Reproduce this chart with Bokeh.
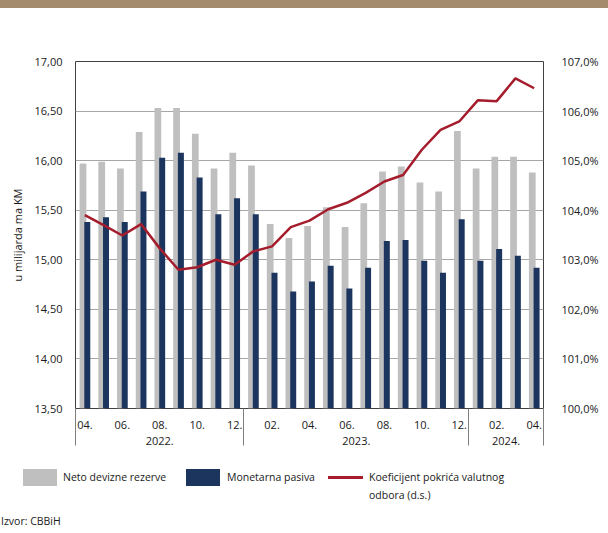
import numpy as np
from bokeh.plotting import figure
from bokeh.models import (Range1d, LinearAxis, FixedTicker, ColumnDataSource, Div)
from bokeh.layouts import column
from bokeh.embed import file_html
from bokeh.resources import INLINE

# ---------------- data ----------------
month_labels = ["04.", "05.", "06.", "07.", "08.", "09.", "10.", "11.", "12.",
                "01.", "02.", "03.", "04.", "05.", "06.", "07.", "08.", "09.", "10.", "11.", "12.",
                "01.", "02.", "03.", "04."]
year_of_month = ["2022."] * 9 + ["2023."] * 12 + ["2024."] * 4
year_labels = ["2022.", "2023.", "2024."]

reserves = [15.97, 15.99, 15.92, 16.29, 16.53, 16.53, 16.27, 15.92, 16.08,
            15.95, 15.36, 15.22, 15.34, 15.53, 15.33, 15.57, 15.89, 15.94, 15.78, 15.69, 16.30,
            15.92, 16.04, 16.04, 15.88]
monetary = [15.38, 15.43, 15.38, 15.69, 16.03, 16.08, 15.83, 15.46, 15.62,
            15.46, 14.87, 14.68, 14.78, 14.94, 14.71, 14.92, 15.19, 15.20, 14.99, 14.87, 15.41,
            14.99, 15.11, 15.04, 14.92]
coverage = [103.90, 103.70, 103.49, 103.72, 103.23, 102.80, 102.85, 103.00, 102.90,
            103.17, 103.27, 103.66, 103.79, 104.02, 104.15, 104.35, 104.58, 104.71, 105.22, 105.62, 105.79,
            106.22, 106.20, 106.66, 106.46]

left_ticks = [13.5, 14.0, 14.5, 15.0, 15.5, 16.0, 16.5, 17.0]
left_tick_labels = ["13,50", "14,00", "14,50", "15,00", "15,50", "16,00", "16,50", "17,00"]
right_ticks = [100, 101, 102, 103, 104, 105, 106, 107]
right_tick_labels = ["100,0%", "101,0%", "102,0%", "103,0%", "104,0%", "105,0%", "106,0%", "107,0%"]

legend_labels = ["Neto devizne rezerve", "Monetarna pasiva", "Koeficijent pokrića valutnog<br>odbora (d.s.)"]
source_text = "Izvor: CBBiH"

# ---------------- styling ----------------
FONT = "Open Sans"
GREY = "#BFBFBF"
NAVY = "#1C355E"
RED = "#A51D2D"
TXT = "#1a1a1a"
BAND = "#A58B6E"

n = len(month_labels)
pos = np.arange(n) + 0.5
src = ColumnDataSource(dict(x=pos, xg=pos - 0.1, xn=pos + 0.13,
                            reserves=reserves, monetary=monetary, coverage=coverage))

# ---------------- main chart ----------------
p = figure(width=608, height=450, output_backend="svg", toolbar_location=None,
           x_range=Range1d(0, n), y_range=Range1d(13.5, 17.0),
           min_border_left=75, min_border_right=65, min_border_top=53, min_border_bottom=50)
p.extra_y_ranges = {"pct": Range1d(100, 107)}

p.vbar(x="xg", top="reserves", bottom=13.5, width=0.36, source=src,
       fill_color=GREY, line_color=None)
p.vbar(x="xn", top="monetary", bottom=13.5, width=0.32, source=src,
       fill_color=NAVY, line_color=None)
p.line(x="x", y="coverage", source=src, y_range_name="pct",
       line_color=RED, line_width=2.5)

p.outline_line_color = "#404040"
p.outline_line_width = 1
p.xgrid.grid_line_color = None
p.ygrid.ticker = FixedTicker(ticks=left_ticks)
p.ygrid.grid_line_color = "#A6A6A6"
p.ygrid.grid_line_width = 1

def style_axis(ax):
    ax.axis_line_color = None
    ax.major_tick_line_color = None
    ax.major_tick_in = 0
    ax.major_tick_out = 0
    ax.minor_tick_line_color = None
    ax.minor_tick_in = 0
    ax.minor_tick_out = 0
    ax.major_label_text_font = FONT
    ax.major_label_text_font_size = "11px"
    ax.major_label_text_color = TXT

yl = p.yaxis[0]
style_axis(yl)
yl.ticker = FixedTicker(ticks=left_ticks)
yl.major_label_overrides = {t: s for t, s in zip(left_ticks, left_tick_labels)}
yl.major_label_standoff = 13
yl.axis_label = "u milijarda ma KM"
yl.axis_label_text_font = FONT
yl.axis_label_text_font_size = "11px"
yl.axis_label_text_font_style = "normal"
yl.axis_label_text_color = TXT
yl.axis_label_standoff = 6

yr = LinearAxis(y_range_name="pct")
style_axis(yr)
yr.ticker = FixedTicker(ticks=right_ticks)
yr.major_label_overrides = {t: s for t, s in zip(right_ticks, right_tick_labels)}
yr.major_label_standoff = 18
p.add_layout(yr, "right")

counts = [year_of_month.count(y) for y in year_labels]
seps = [0] + [int(c) for c in np.cumsum(counts)]
seps_draw = [min(max(float(s), 0.02), n - 0.02) for s in seps]
xm = p.xaxis[0]
style_axis(xm)
xm.ticker = FixedTicker(ticks=list(pos[::2]), minor_ticks=seps_draw)
xm.major_label_overrides = {float(pos[k]): month_labels[k] for k in range(0, n, 2)}
xm.minor_tick_line_color = "#7F7F7F"
xm.minor_tick_line_width = 1
xm.minor_tick_in = 0
xm.minor_tick_out = 37
xm.major_label_standoff = -25

year_centers = []
for y in year_labels:
    idx = [i for i in range(n) if year_of_month[i] == y]
    year_centers.append(float(np.mean(pos[idx])))
xy = LinearAxis()
style_axis(xy)
xy.ticker = FixedTicker(ticks=year_centers)
xy.major_label_overrides = {c: s for c, s in zip(year_centers, year_labels)}
xy.major_label_standoff = 5
p.add_layout(xy, "below")

# ---------------- legend strip + source note ----------------
def swatch(left, top, w, h, color):
    return (f'<span style="position:absolute;left:{left}px;top:{top}px;width:{w}px;'
            f'height:{h}px;background:{color};"></span>')

def text_at(left, top, txt):
    return (f'<span style="position:absolute;left:{left}px;top:{top}px;'
            f'line-height:18px;white-space:nowrap;">{txt}</span>')

legend_html = (
    f'<div style="position:relative;width:608px;height:75px;font-family:\'{FONT}\';'
    f'font-size:10.5px;color:{TXT};">'
    + swatch(23, 11, 34, 17, GREY) + text_at(63, 10, legend_labels[0])
    + swatch(186, 11, 34, 17, NAVY) + text_at(227, 10, legend_labels[1])
    + swatch(328, 18, 35, 2.5, RED) + text_at(369, 10, legend_labels[2])
    + text_at(1, 54, source_text)
    + '</div>'
)
legend_div = Div(text=legend_html, width=608, height=75, margin=0)

band = Div(text="", width=608, height=8, margin=0,
           styles={"background-color": BAND})
layout = column(band, p, legend_div, spacing=0)

open("out.html", "w").write(file_html(layout, INLINE))
